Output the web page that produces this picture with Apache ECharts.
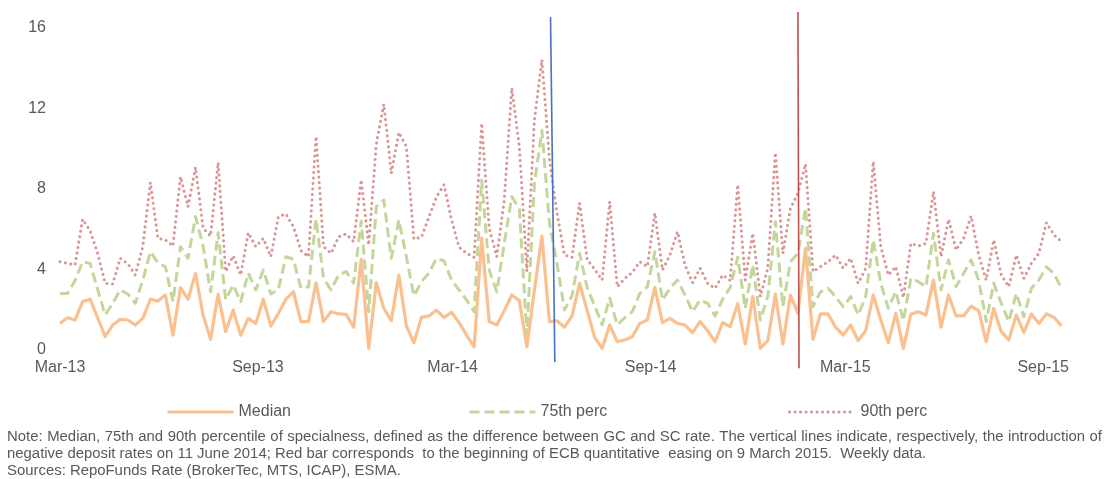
<!DOCTYPE html>
<html>
<head>
<meta charset="utf-8">
<title>Specialness percentiles</title>
<script src="https://cdn.jsdelivr.net/npm/echarts@6/dist/echarts.min.js"></script>
<style>
  html, body { margin: 0; padding: 0; background: #fff; }
  #chart { width: 1105px; height: 479px; }
</style>
</head>
<body>
<div id="chart"></div>
<script>
// weekly observations, first one on this date
const firstWeek = '2013-03-01';

const tickDates = ['2013-03-01', '2013-09-01', '2014-03-01', '2014-09-01', '2015-03-01', '2015-09-01'];
const tickLabels = ['Mar-13', 'Sep-13', 'Mar-14', 'Sep-14', 'Mar-15', 'Sep-15'];

const seriesNames = ['Median', '75th perc', '90th perc'];

const median = [
  1.32, 1.6, 1.49, 2.4, 2.52, 1.6, 0.66, 1.24, 1.52, 1.49,
  1.24, 1.57, 2.52, 2.43, 2.73, 0.74, 3.09, 2.52, 3.8, 1.74,
  0.53, 2.76, 0.91, 1.98, 0.74, 1.57, 1.32, 2.52, 1.19, 1.82,
  2.52, 2.89, 1.41, 1.41, 3.34, 1.41, 1.9, 1.79, 1.77, 1.13,
  4.5, 0.08, 3.34, 2.07, 1.45, 3.72, 1.19, 0.36, 1.62, 1.69,
  1.98, 1.62, 1.87, 1.36, 0.74, 0.16, 5.55, 1.41, 1.24, 1.95,
  2.73, 2.45, 0.16, 2.98, 5.65, 1.41, 1.45, 1.13, 1.69, 3.31,
  1.98, 0.63, 0.08, 1.24, 0.41, 0.5, 0.66, 1.32, 1.49, 3.11,
  1.36, 1.57, 1.32, 1.24, 0.86, 1.41, 0.96, 0.41, 1.36, 1.15,
  2.3, 0.3, 2.65, 0.08, 0.46, 2.78, 0.3, 2.73, 1.82, 5.05,
  0.53, 1.79, 1.79, 1.13, 0.74, 1.24, 0.46, 0.96, 2.73, 1.49,
  0.36, 1.82, 0.08, 1.79, 1.9, 1.74, 3.47, 1.13, 2.73, 1.69,
  1.69, 2.18, 1.95, 0.41, 2.07, 0.91, 0.5, 1.74, 0.86, 1.79,
  1.32, 1.79, 1.62, 1.19
];

const perc75 = [
  2.81, 2.81, 3.45, 4.38, 4.3, 3.0, 1.74, 2.32, 2.98, 2.78,
  2.32, 3.47, 4.88, 4.33, 4.13, 2.4, 5.13, 4.55, 6.62, 5.16,
  2.89, 5.82, 2.5, 3.23, 2.4, 3.82, 2.98, 3.97, 2.78, 3.01,
  4.63, 4.5, 3.06, 3.14, 6.5, 3.56, 2.98, 3.72, 3.89, 3.31,
  6.4, 1.9, 7.11, 7.44, 4.55, 6.45, 4.63, 2.68, 3.39, 3.82,
  4.55, 4.42, 3.47, 2.98, 2.48, 1.9, 8.44, 3.97, 2.89, 5.3,
  7.61, 7.0, 0.74, 8.27, 10.9, 6.3, 4.3, 1.99, 2.7, 4.8,
  3.1, 2.2, 1.25, 2.57, 1.25, 1.6, 1.9, 2.81, 3.14, 4.88,
  2.48, 3.06, 3.47, 2.73, 1.9, 2.48, 2.32, 1.69, 2.52, 3.1,
  4.6, 2.07, 4.22, 1.49, 2.65, 6.37, 2.15, 4.38, 4.8, 7.03,
  2.15, 2.89, 3.06, 2.65, 2.15, 2.65, 1.74, 2.65, 5.46, 3.31,
  2.07, 2.9, 1.45, 3.56, 3.39, 3.14, 5.79, 2.98, 4.47, 3.14,
  3.8, 4.47, 3.47, 1.41, 3.31, 2.32, 1.41, 2.81, 1.65, 3.06,
  3.47, 4.13, 3.8, 3.06
];

const perc90 = [
  4.38, 4.3, 4.22, 6.49, 5.92, 4.8, 3.31, 3.28, 4.55, 4.28,
  3.72, 5.13, 8.32, 5.54, 5.46, 5.16, 8.6, 7.11, 9.07, 6.04,
  5.66, 9.3, 3.9, 4.67, 3.72, 5.82, 5.13, 5.54, 4.63, 6.62,
  6.75, 6.12, 4.93, 4.63, 10.6, 5.13, 4.8, 5.62, 5.76, 5.38,
  8.44, 5.21, 10.2, 12.2, 8.77, 10.8, 10.1, 5.5, 5.6, 6.6,
  7.6, 8.2, 6.45, 5.1, 4.8, 4.6, 11.25, 6.04, 4.63, 7.44,
  13.0, 10.1, 3.9, 11.4, 14.4, 9.43, 6.8, 4.71, 4.6, 7.28,
  4.5, 4.0, 3.47, 7.36, 3.14, 3.55, 3.85, 4.38, 4.14, 6.8,
  3.97, 4.71, 5.87, 4.22, 3.34, 4.06, 3.31, 3.06, 3.72, 3.45,
  8.2, 3.47, 5.79, 2.65, 4.06, 9.79, 4.8, 7.03, 7.78, 9.23,
  3.89, 4.14, 4.38, 4.71, 4.06, 4.55, 3.31, 4.06, 9.35, 5.13,
  3.72, 4.14, 2.6, 5.29, 5.16, 5.29, 7.86, 4.63, 6.49, 4.96,
  5.54, 6.65, 4.71, 3.47, 5.46, 3.72, 3.14, 4.71, 3.56, 4.3,
  4.8, 6.32, 5.71, 5.38
];

// where the two vertical bars are drawn on the picture (top date, bottom date)
const negRateBar = ['2014-05-31', '2014-06-04'];
const qeBar = ['2015-01-16', '2015-01-17'];

const noteLines = [
  'Note: Median, 75th and 90th percentile of specialness,  defined as the difference between  GC and SC rate. The vertical lines indicate, respectively, the introduction of',
  'negative deposit rates on 11 June 2014; Red bar corresponds  to the beginning of ECB quantitative  easing on 9 March 2015.  Weekly data.',
  'Sources: RepoFunds Rate (BrokerTec, MTS, ICAP), ESMA.'
];

const FONT = '"Liberation Sans", Arial, sans-serif';
const GREY = '#595959';
const NOTE_SIZE = 14.9;

const t0 = Date.parse(firstWeek);
const dayOf = s => (Date.parse(s) - t0) / 86400000;
const weekly = arr => arr.map((v, i) => [i * 7, v]);
const lastDay = (median.length - 1) * 7;

const tickDays = tickDates.map(dayOf);
const labelFor = {};
tickDays.forEach((d, i) => { labelFor[d] = tickLabels[i]; });

// first note line is justified across the full width
const ctx = document.createElement('canvas').getContext('2d');
ctx.font = NOTE_SIZE + 'px ' + FONT;

const noteText = (text, x, y) => ({
  type: 'text', x: x, y: y, silent: true,
  style: { text: text, fill: GREY, fontSize: NOTE_SIZE, fontFamily: FONT, verticalAlign: 'middle' }
});

const justified = (text, y, x0, x1) => {
  const words = text.split(/\s+/);
  const widths = words.map(w => ctx.measureText(w).width);
  const total = widths.reduce((a, b) => a + b, 0);
  const gap = (x1 - x0 - total) / (words.length - 1);
  let x = x0;
  return words.map((w, i) => {
    const el = noteText(w, x, y);
    x += widths[i] + gap;
    return el;
  });
};

const notes = [].concat(
  justified(noteLines[0], 437, 7, 1102),
  [noteText(noteLines[1], 7, 454), noteText(noteLines[2], 7, 471)]
);

const legendAt = (name, left, lineStyle) => ({
  data: [name],
  left: left,
  top: 404,
  padding: 0,
  itemWidth: 66,
  itemHeight: 14,
  itemStyle: { opacity: 0 },
  lineStyle: lineStyle,
  textStyle: { color: GREY, fontSize: 16, fontFamily: FONT }
});

const chart = echarts.init(document.getElementById('chart'));

chart.setOption({
  animation: false,
  textStyle: { fontFamily: FONT },
  grid: { left: 60, right: 43.5, top: 27.6, bottom: 129, containLabel: false },
  legend: [
    legendAt(seriesNames[0], 166, { width: 3 }),
    legendAt(seriesNames[1], 468, { width: 3 }),
    legendAt(seriesNames[2], 788, { width: 3 })
  ],
  xAxis: {
    type: 'value',
    min: 0,
    max: lastDay,
    axisLine: { show: false },
    axisTick: { show: false },
    splitLine: { show: false },
    axisLabel: {
      customValues: tickDays,
      formatter: v => labelFor[v] || '',
      color: GREY,
      fontSize: 16,
      lineHeight: 16,
      margin: 10,
      fontFamily: FONT
    }
  },
  yAxis: {
    type: 'value',
    min: 0,
    max: 16,
    interval: 4,
    axisLine: { show: false },
    axisTick: { show: false },
    splitLine: { show: false },
    axisLabel: { color: GREY, fontSize: 16, margin: 14, fontFamily: FONT }
  },
  series: [
    {
      name: seriesNames[0],
      type: 'line',
      data: weekly(median),
      symbol: 'none',
      lineStyle: { color: '#FAC090', width: 3.2, join: 'round' },
      itemStyle: { color: '#FAC090' },
      z: 4
    },
    {
      name: seriesNames[1],
      type: 'line',
      data: weekly(perc75),
      symbol: 'none',
      lineStyle: { color: '#C3D69B', width: 3, type: [10, 5], join: 'round' },
      itemStyle: { color: '#C3D69B' },
      z: 3
    },
    {
      name: seriesNames[2],
      type: 'line',
      data: weekly(perc90),
      symbol: 'none',
      lineStyle: { color: '#D99694', width: 3, type: [0.1, 5.4], cap: 'round', join: 'round' },
      itemStyle: { color: '#D99694' },
      z: 2
    },
    {
      name: 'negRateBar',
      type: 'line',
      clip: false,
      silent: true,
      data: [[dayOf(negRateBar[0]), 16.53], [dayOf(negRateBar[1]), -0.6]],
      symbol: 'none',
      lineStyle: { color: '#4472C4', width: 1.6 },
      z: 5
    },
    {
      name: 'qeBar',
      type: 'line',
      clip: false,
      silent: true,
      data: [[dayOf(qeBar[0]), 16.77], [dayOf(qeBar[1]), -0.9]],
      symbol: 'none',
      lineStyle: { color: '#C0504D', width: 1.6 },
      z: 5
    }
  ],
  graphic: notes
});
</script>
</body>
</html>
